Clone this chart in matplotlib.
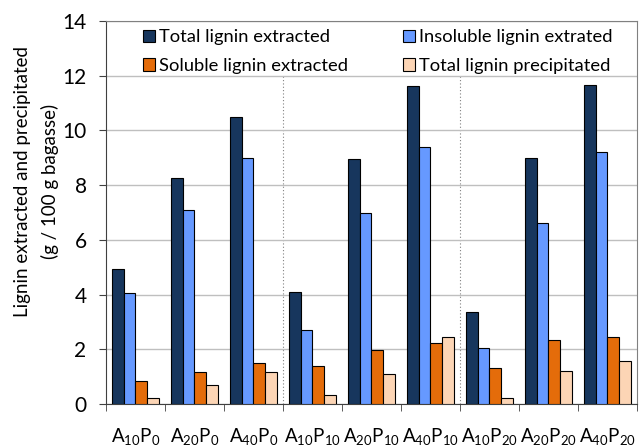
import numpy as np
import matplotlib
matplotlib.use("Agg")
import matplotlib.pyplot as plt

plt.rcParams['font.family'] = ['Lato', 'DejaVu Sans']
plt.rcParams['mathtext.default'] = 'regular'

groups = ["A$_{10}$P$_{0}$", "A$_{20}$P$_{0}$", "A$_{40}$P$_{0}$",
          "A$_{10}$P$_{10}$", "A$_{20}$P$_{10}$", "A$_{40}$P$_{10}$",
          "A$_{10}$P$_{20}$", "A$_{20}$P$_{20}$", "A$_{40}$P$_{20}$"]

total_extracted = [4.92, 8.27, 10.49, 4.09, 8.95, 11.63, 3.36, 8.99, 11.68]
insoluble_extracted = [4.05, 7.10, 9.00, 2.70, 7.00, 9.39, 2.06, 6.63, 9.20]
soluble_extracted = [0.85, 1.16, 1.49, 1.40, 1.97, 2.24, 1.32, 2.35, 2.46]
total_precipitated = [0.23, 0.69, 1.19, 0.33, 1.10, 2.46, 0.23, 1.22, 1.58]

series = [
    ("Total lignin extracted", total_extracted, "#17365D"),
    ("Insoluble lignin extrated", insoluble_extracted, "#6699FF"),
    ("Soluble lignin extracted", soluble_extracted, "#E46C0A"),
    ("Total lignin precipitated", total_precipitated, "#FCD5B5"),
]

fig = plt.figure(figsize=(6.44, 4.48), dpi=100)
ax = fig.add_axes([0.1646, 0.098, 0.8244, 0.855])

x = np.arange(len(groups))
w = 0.2
handles = {}
for i, (name, vals, col) in enumerate(series):
    b = ax.bar(x - 0.3 + i * w, vals, w, color=col, edgecolor="black",
               linewidth=0.8, label=name, zorder=3)
    handles[name] = b

ax.set_xlim(-0.5, len(groups) - 0.5)
ax.set_ylim(0, 14)
ax.set_yticks(np.arange(0, 15, 2))
ax.yaxis.grid(True, color="#BFBFBF", linewidth=1.0, zorder=0)
ax.tick_params(axis="y", labelsize=15, length=5, pad=9, color="#404040")

# group labels centred, tick marks on group boundaries
ax.set_xticks(x)
ax.set_xticklabels(groups, fontsize=13.5)
ax.tick_params(axis="x", which="major", length=0, pad=16)
ax.set_xticks(np.arange(-0.5, len(groups), 1), minor=True)
ax.tick_params(axis="x", which="minor", length=5, direction="out", color="#404040")

for xv in (2.5, 5.5):
    ax.plot([xv, xv], [0, 12], color="#808080", linestyle=(0, (1, 2)),
            linewidth=0.8, zorder=1)

for side in ("top", "right"):
    ax.spines[side].set_color("#808080")
ax.spines["left"].set_color("#404040")
ax.spines["bottom"].set_color("#404040")

ax.set_ylabel("Lignin extracted and precipitated\n(g / 100 g bagasse)", fontsize=13.5,
              linespacing=1.7)
ax.yaxis.set_label_coords(-0.088, 0.58)

order = ["Total lignin extracted", "Soluble lignin extracted",
         "Insoluble lignin extrated", "Total lignin precipitated"]
leg = ax.legend([handles[n] for n in order], order, ncol=2, loc="upper left",
                bbox_to_anchor=(0.07, 0.978), frameon=False, fontsize=13.2,
                handlelength=0.65, handleheight=0.65, handletextpad=0.22,
                columnspacing=3.0, labelspacing=0.68, borderaxespad=0,
                borderpad=0)

fig.savefig("out.png", dpi=100)
